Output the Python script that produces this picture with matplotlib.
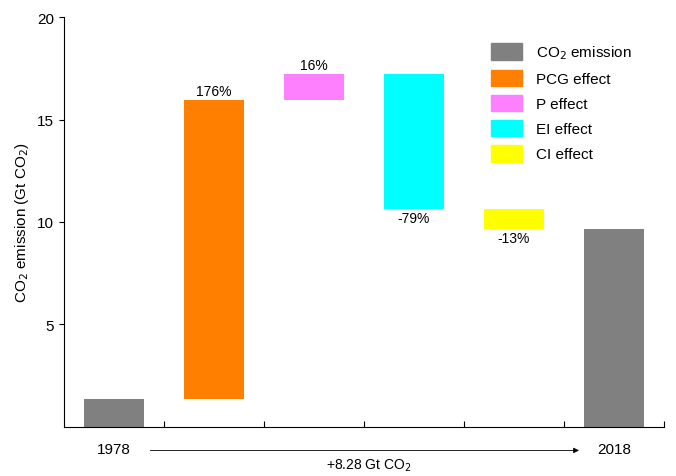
import matplotlib
matplotlib.use("Agg")
import matplotlib.pyplot as plt
from matplotlib.patches import Patch

plt.rcParams['font.family'] = ['Liberation Sans', 'DejaVu Sans']

names = ["1978", "PCG", "P", "EI", "CI", "2018"]
bottoms = [0, 1.37, 15.95, 10.63, 9.65, 0]
heights = [1.37, 14.58, 1.25, 6.57, 1.0, 9.65]
colors = ["#808080", "#FF8000", "#FF80FF", "#00FFFF", "#FFFF00", "#808080"]
pct = {1: ("176%", "top"), 2: ("16%", "top"), 3: ("-79%", "bottom"), 4: ("-13%", "bottom")}
legend_labels = ["CO$_2$ emission", "PCG effect", "P effect", "EI effect", "CI effect"]
legend_colors = ["#808080", "#FF8000", "#FF80FF", "#00FFFF", "#FFFF00"]

fig = plt.figure(figsize=(6.76, 4.77), dpi=100)
ax = fig.add_axes([0.094, 0.103, 0.888, 0.859])
x = list(range(len(names)))
ax.bar(x, heights, bottom=bottoms, width=0.6, color=colors)
for i, (t, where) in pct.items():
    if where == "top":
        ax.text(i, bottoms[i] + heights[i] + 0.1, t, ha="center", va="bottom", fontsize=10)
    else:
        ax.text(i, bottoms[i] - 0.1, t, ha="center", va="top", fontsize=10)
ax.set_xlim(-0.5, 5.5)
ax.set_ylim(0, 20)
ax.set_yticks([5, 10, 15, 20])
ax.set_xticks([0.5, 1.5, 2.5, 3.5, 4.5, 5.5])
ax.set_xticklabels([])
ax.tick_params(axis="x", direction="in", length=4)
ax.tick_params(axis="y", labelsize=11)
ax.spines["top"].set_visible(False)
ax.spines["right"].set_visible(False)
ax.set_ylabel("CO$_2$ emission (Gt CO$_2$)", fontsize=11)
ax.text(0, -1.1, names[0], ha="center", va="center", fontsize=11)
ax.text(5, -1.1, names[5], ha="center", va="center", fontsize=11)
ax.annotate("", xy=(4.68, -1.15), xytext=(0.34, -1.15),
            arrowprops=dict(arrowstyle="-|>", color="black", lw=0.6, mutation_scale=8),
            annotation_clip=False)
ax.text(2.55, -1.85, "+8.28 Gt CO$_2$", ha="center", va="center", fontsize=10)
handles = [Patch(color=c) for c in legend_colors]
ax.legend(handles, legend_labels, loc="upper left", bbox_to_anchor=(0.69, 0.97), frameon=False,
          fontsize=11, handlelength=2.0, handleheight=1.3, labelspacing=0.55, handletextpad=0.9)
fig.savefig("out.png", dpi=100)
